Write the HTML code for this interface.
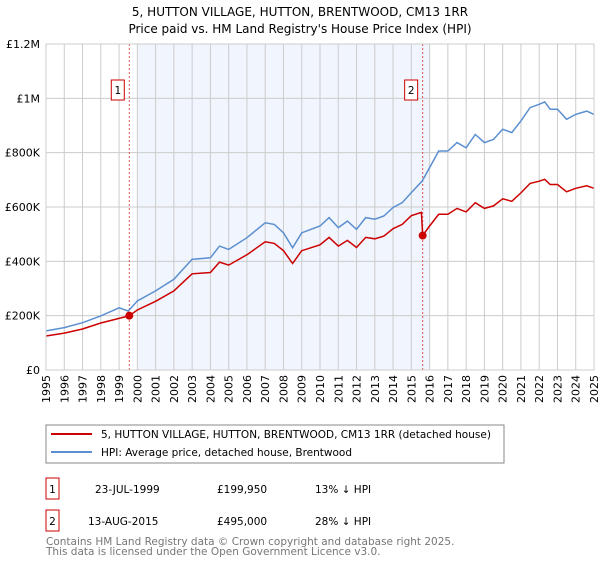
<!DOCTYPE html>
<html><head><meta charset="utf-8"><style>
body{margin:0;background:#fff;font-family:"Liberation Sans","DejaVu Sans",sans-serif}
svg text{font-family:"DejaVu Sans","Liberation Sans",sans-serif}
</style></head><body>
<svg id="c" width="600" height="560" viewBox="0 0 600 560">
<text x="300" y="16" text-anchor="middle" font-size="12">5, HUTTON VILLAGE, HUTTON, BRENTWOOD, CM13 1RR</text>
<text x="300" y="33" text-anchor="middle" font-size="12">Price paid vs. HM Land Registry's House Price Index (HPI)</text>
<g id="plot"></g>
<g>
<rect x="46" y="425" width="458" height="38" fill="#fff" stroke="#888" stroke-width="1"/>
<line x1="51" y1="434" x2="92" y2="434" stroke="#cc0000" stroke-width="2"/>
<text x="101" y="438" font-size="10.5">5, HUTTON VILLAGE, HUTTON, BRENTWOOD, CM13 1RR (detached house)</text>
<line x1="51" y1="452" x2="92" y2="452" stroke="#5b8fd0" stroke-width="2"/>
<text x="101" y="456" font-size="10.5">HPI: Average price, detached house, Brentwood</text>
</g>
<g font-size="10.5">
<rect x="46" y="478" width="13" height="21" fill="none" stroke="#cc0000"/>
<text x="52.5" y="493" text-anchor="middle">1</text>
<text x="95" y="493">23-JUL-1999</text><text x="217" y="493">£199,950</text><text x="315" y="493">13% ↓ HPI</text>
<rect x="46" y="510" width="13" height="21" fill="none" stroke="#cc0000"/>
<text x="52.5" y="525" text-anchor="middle">2</text>
<text x="88" y="525">13-AUG-2015</text><text x="217" y="525">£495,000</text><text x="315" y="525">28% ↓ HPI</text>
</g>
<text x="46" y="545" font-size="10.5" fill="#777">Contains HM Land Registry data © Crown copyright and database right 2025.</text>
<text x="46" y="555" font-size="10.5" fill="#777">This data is licensed under the Open Government Licence v3.0.</text>
</svg>
<script>
const hpiYears=[1995,1996,1997,1998,1999,1999.5,2000,2001,2002,2002.5,2003,2004,2004.5,2005,2006,2007,2007.5,2008,2008.5,2009,2010,2010.5,2011,2011.5,2012,2012.5,2013,2013.5,2014,2014.5,2015,2015.6,2016,2016.5,2017,2017.5,2018,2018.5,2019,2019.5,2020,2020.5,2021,2021.5,2022,2022.3,2022.6,2023,2023.5,2024,2024.6,2025];
const hpiValues=[144,156,174,199,229,217,254,291,334,371,407,413,456,444,487,542,536,505,450,505,530,561,524,548,518,561,555,567,598,616,653,696,745,806,806,837,818,867,837,849,886,874,917,966,978,987,960,960,923,941,953,941];
const redYears=[1995,1996,1997,1998,1999,1999.56,2000,2001,2002,2002.5,2003,2004,2004.5,2005,2006,2007,2007.5,2008,2008.5,2009,2010,2010.5,2011,2011.5,2012,2012.5,2013,2013.5,2014,2014.5,2015,2015.55,2015.62,2016,2016.5,2017,2017.5,2018,2018.5,2019,2019.5,2020,2020.5,2021,2021.5,2022,2022.3,2022.6,2023,2023.5,2024,2024.6,2025];
const redValues=[125,136,151,173,190,200,221,253,291,323,354,359,397,386,424,472,466,439,392,439,461,488,456,477,451,488,483,493,520,536,568,580,495,530,573,573,595,582,616,595,604,630,621,652,687,695,702,683,683,656,669,678,669];
const saleYears=[1999.56,2015.62];
const saleValues=[200,495];
const saleLabels=["1","2"];
const yTicks=[0,200,400,600,800,1000,1200];
const yTickLabels=["£0","£200K","£400K","£600K","£800K","£1M","£1.2M"];
const xTicks=[1995,1996,1997,1998,1999,2000,2001,2002,2003,2004,2005,2006,2007,2008,2009,2010,2011,2012,2013,2014,2015,2016,2017,2018,2019,2020,2021,2022,2023,2024,2025];
const X0=46,X1=594,Y0=370,Y1=44;
const xs=y=>X0+(y-1995)/30*(X1-X0);
const ys=v=>Y0-v/1200*(Y0-Y1);
const NS="http://www.w3.org/2000/svg";
const g=document.getElementById('plot');
function mk(t,a){const e=document.createElementNS(NS,t);for(const k in a)e.setAttribute(k,a[k]);g.appendChild(e);return e;}
let sh=mk('rect',{x:xs(2000),y:Y1,width:xs(2016)-xs(2000),height:Y0-Y1,fill:'#eef3fc',opacity:0.8});


xTicks.forEach(t=>{let l=mk('line',{x1:xs(t),x2:xs(t),y1:Y1,y2:Y0,stroke:'#ccc','stroke-width':1});


let tx=mk('text',{x:0,y:0,'font-size':11,'text-anchor':'end',transform:`translate(${xs(t)+4},${Y0+5}) rotate(-90)`});tx.textContent=t;

});
yTicks.forEach((t,i)=>{let l=mk('line',{x1:X0,x2:X1,y1:ys(t),y2:ys(t),stroke:'#ccc','stroke-width':1});


let tx=mk('text',{x:40,y:ys(t)+4,'font-size':11,'text-anchor':'end'});tx.textContent=yTickLabels[i];

});
saleYears.forEach((s,i)=>{let l=mk('line',{x1:xs(s),x2:xs(s),y1:Y1,y2:Y0,stroke:'#e05050','stroke-width':1,'stroke-dasharray':'2,2'});

});
function path(xa,va,col,name){let d=xa.map((y,i)=>(i?'L':'M')+xs(y).toFixed(1)+','+ys(va[i]).toFixed(1)).join('');
let p=mk('path',{d:d,fill:'none',stroke:col,'stroke-width':1.5});

}
path(hpiYears,hpiValues,'#5b8fd0','hpi-line');
path(redYears,redValues,'#cc0000','property-line');
saleYears.forEach((s,i)=>{let c=mk('circle',{cx:xs(s),cy:ys(saleValues[i]),r:4,fill:'#cc0000'});


let bx=xs(s)-18;let r=mk('rect',{x:bx,y:80,width:13,height:20,fill:'#fff',stroke:'#cc0000'});


let t=mk('text',{x:bx+6.5,y:94,'font-size':10.5,'text-anchor':'middle'});t.textContent=saleLabels[i];

});
let ax=mk('rect',{x:X0,y:Y1,width:X1-X0,height:Y0-Y1,fill:'none',stroke:'#ccc'});


</script>
</body></html>
